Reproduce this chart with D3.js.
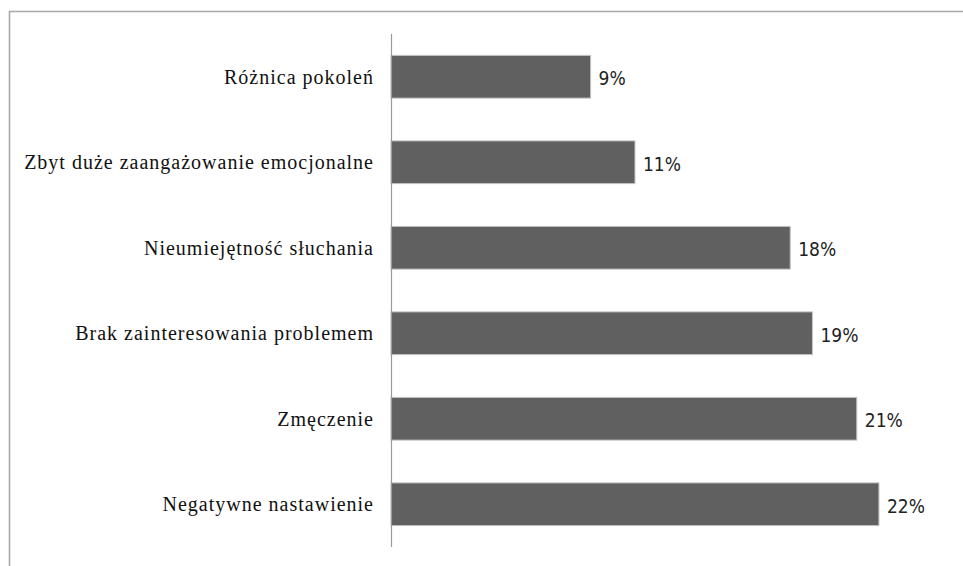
<!DOCTYPE html>
<html>
<head>
<meta charset="utf-8">
<script src="https://cdn.jsdelivr.net/npm/d3@7"></script>
<style>
  html, body { margin: 0; padding: 0; background: #fff; }
  svg { display: block; }
</style>
</head>
<body>
<svg id="chart" width="963" height="566"></svg>
<script>
// Reasons given, ordered top to bottom
const categories = [
  "Różnica pokoleń",
  "Zbyt duże zaangażowanie emocjonalne",
  "Nieumiejętność słuchania",
  "Brak zainteresowania problemem",
  "Zmęczenie",
  "Negatywne nastawienie"
];
// Share of answers, in percent
const values = [9, 11, 18, 19, 21, 22];
const valueLabels = ["9%", "11%", "18%", "19%", "21%", "22%"];

const svg = d3.select("#chart");

// Outer frame (top and left edges visible)
svg.append("path")
  .attr("d", "M9.5,566 V11.5 H963")
  .attr("fill", "none")
  .attr("stroke", "#a8a8a8")
  .attr("stroke-width", 1.6);

const axisX = 391;
const y = d3.scaleBand()
  .domain(categories)
  .range([34, 547])
  .paddingInner(0.5)
  .paddingOuter(0.25);

const x = d3.scaleLinear()
  .domain([0, 25])
  .range([axisX, axisX + 25 * 22.18]);

// Bars
svg.append("g")
  .selectAll("rect")
  .data(categories)
  .join("rect")
  .attr("x", x(0))
  .attr("y", d => y(d))
  .attr("width", (d, i) => x(values[i]) - x(0))
  .attr("height", y.bandwidth())
  .attr("fill", "#606060")
  .attr("stroke", "#c4c4c4")
  .attr("stroke-width", 1);

// Category axis line
svg.append("line")
  .attr("x1", axisX + 0.5).attr("x2", axisX + 0.5)
  .attr("y1", 34).attr("y2", 547)
  .attr("stroke", "#9a9a9a")
  .attr("stroke-width", 1.2);

// Category labels
svg.append("g")
  .selectAll("text")
  .data(categories)
  .join("text")
  .attr("x", axisX - 17)
  .attr("y", d => y(d) + y.bandwidth() / 2)
  .attr("dy", "0.35em")
  .attr("text-anchor", "end")
  .attr("font-family", "'Liberation Serif', 'Times New Roman', serif")
  .attr("font-size", 20)
  .attr("letter-spacing", "1px")
  .attr("fill", "#111")
  .text(d => d);

// Value labels
svg.append("g")
  .selectAll("text")
  .data(categories)
  .join("text")
  .attr("x", (d, i) => x(values[i]) + 8)
  .attr("y", d => y(d) + y.bandwidth() / 2 + 1.5)
  .attr("dy", "0.36em")
  .attr("font-family", "'DejaVu Sans Condensed', 'DejaVu Sans', sans-serif")
  .attr("font-stretch", "condensed")
  .attr("font-size", 19)
  .attr("fill", "#222")
  .text((d, i) => valueLabels[i]);
</script>
</body>
</html>
